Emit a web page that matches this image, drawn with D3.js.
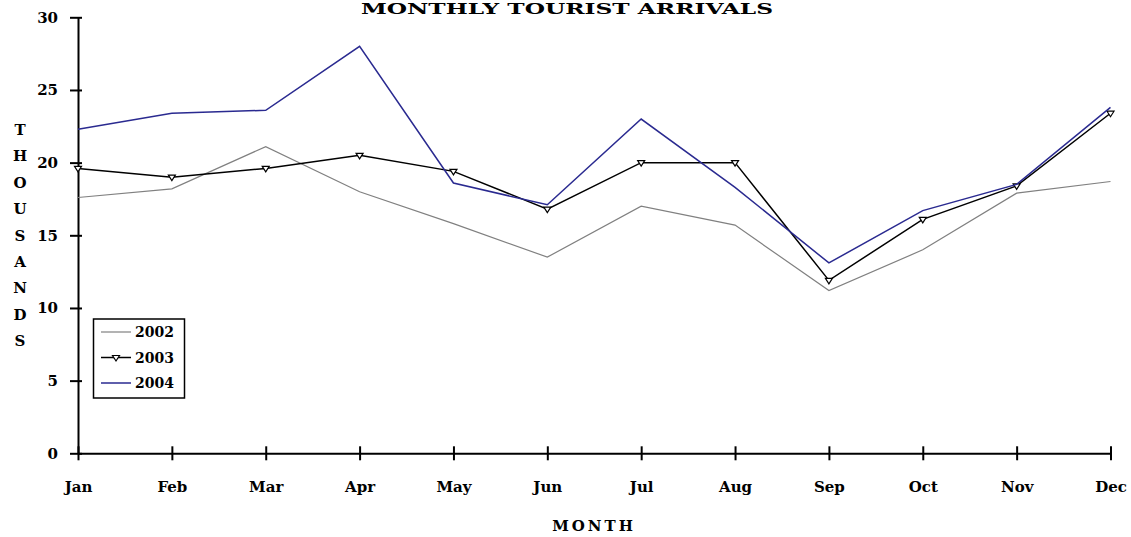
<!DOCTYPE html>
<html><head><meta charset="utf-8">
<script src="https://cdn.jsdelivr.net/npm/d3@7"></script>
<style>body{margin:0;background:#fff;}svg{display:block;}</style>
</head><body>
<svg id="c" width="1131" height="537"></svg>
<script>
const months = ["Jan","Feb","Mar","Apr","May","Jun","Jul","Aug","Sep","Oct","Nov","Dec"];
const v2002 = [17.6,18.2,21.1,18.0,15.8,13.5,17.0,15.7,11.2,14.0,17.9,18.7];
const v2003 = [19.6,19.0,19.6,20.5,19.4,16.8,20.0,20.0,11.9,16.1,18.4,23.4];
const v2004 = [22.3,23.4,23.6,28.0,18.6,17.1,23.0,18.3,13.1,16.7,18.5,23.8];
const yTicks = [0,5,10,15,20,25,30];
const seriesNames = ["2002","2003","2004"];
const title = "MONTHLY  TOURIST ARRIVALS";
const yLabel = "THOUSANDS";
const xLabel = "MONTH";

const svg = d3.select("#c");
const font = "'DejaVu Serif','Liberation Serif',serif";
const x = d3.scalePoint().domain(months).range([78,1110.5]);
const y = d3.scaleLinear().domain([0,30]).range([453.3,17.3]);

const series = [
  {name:seriesNames[0], values:v2002, color:"#808080", w:1.2, marker:false},
  {name:seriesNames[1], values:v2003, color:"#000000", w:1.5, marker:true},
  {name:seriesNames[2], values:v2004, color:"#2a2a90", w:1.5, marker:false}
];

// title
svg.append("text").attr("x",567).attr("y",14).attr("text-anchor","middle")
  .attr("font-family",font).attr("font-weight","bold").attr("font-size",15)
  .attr("textLength",412).attr("lengthAdjust","spacingAndGlyphs")
  .text(title);

// axes
const yAxis = d3.axisLeft(y).tickValues(yTicks).tickSize(0).tickPadding(20);
const gy = svg.append("g").attr("transform","translate(78,0)").call(yAxis);
gy.select(".domain").attr("stroke","#000").attr("stroke-width",2);
gy.selectAll(".tick line").remove();
gy.selectAll(".tick").append("line").attr("x1",-8).attr("x2",4).attr("stroke","#000").attr("stroke-width",2);
gy.selectAll("text").attr("font-family",font).attr("font-weight","bold").attr("font-size",15).attr("fill","#000");

const xAxis = d3.axisBottom(x).tickSize(0);
const gx = svg.append("g").attr("transform","translate(0,453.3)").call(xAxis);
gx.select(".domain").attr("stroke","#000").attr("stroke-width",2);
gx.selectAll(".tick").append("line").attr("y1",-7).attr("y2",7).attr("stroke","#000").attr("stroke-width",2);
gx.selectAll("text").attr("dy",null).attr("y",39)
  .attr("font-family",font).attr("font-weight","bold").attr("font-size",15).attr("fill","#000");

// axis labels
svg.append("text").attr("x",594).attr("y",531).attr("text-anchor","middle")
  .attr("font-family",font).attr("font-weight","bold").attr("font-size",15).attr("letter-spacing",3)
  .text(xLabel);
const yl = svg.append("text").attr("text-anchor","middle")
  .attr("font-family",font).attr("font-weight","bold").attr("font-size",15);
yLabel.split("").forEach((ch,i)=>{
  yl.append("tspan").attr("x",20).attr("y",135+i*26.4).text(ch);
});

// lines
const line = d3.line().x((d,i)=>x(months[i])).y(d=>y(d));
series.forEach(s=>{
  svg.append("path").datum(s.values).attr("d",line).attr("fill","none")
    .attr("stroke",s.color).attr("stroke-width",s.w);
  if(s.marker){
    svg.selectAll(null).data(s.values).enter().append("path")
      .attr("transform",(d,i)=>`translate(${x(months[i])},${y(d)})`)
      .attr("d","M-3.5,-2 L3.5,-2 L0,3.5 Z")
      .attr("fill","#fff").attr("stroke","#000").attr("stroke-width",1.2);
  }
});

// legend
const lg = svg.append("g");
lg.append("rect").attr("x",93.5).attr("y",319).attr("width",91).attr("height",79)
  .attr("fill","#fff").attr("stroke","#000").attr("stroke-width",1.5);
series.forEach((s,i)=>{
  const yy = 332 + i*25.5;
  lg.append("line").attr("x1",101).attr("x2",131).attr("y1",yy).attr("y2",yy)
    .attr("stroke",s.color).attr("stroke-width",s.w);
  if(s.marker){
    lg.append("path").attr("transform",`translate(116,${yy})`)
      .attr("d","M-3.5,-2 L3.5,-2 L0,3.5 Z")
      .attr("fill","#fff").attr("stroke","#000").attr("stroke-width",1.2);
  }
  lg.append("text").attr("x",135).attr("y",yy+5).attr("font-family",font)
    .attr("font-weight","bold").attr("font-size",14).text(s.name);
});
</script>
</body></html>
